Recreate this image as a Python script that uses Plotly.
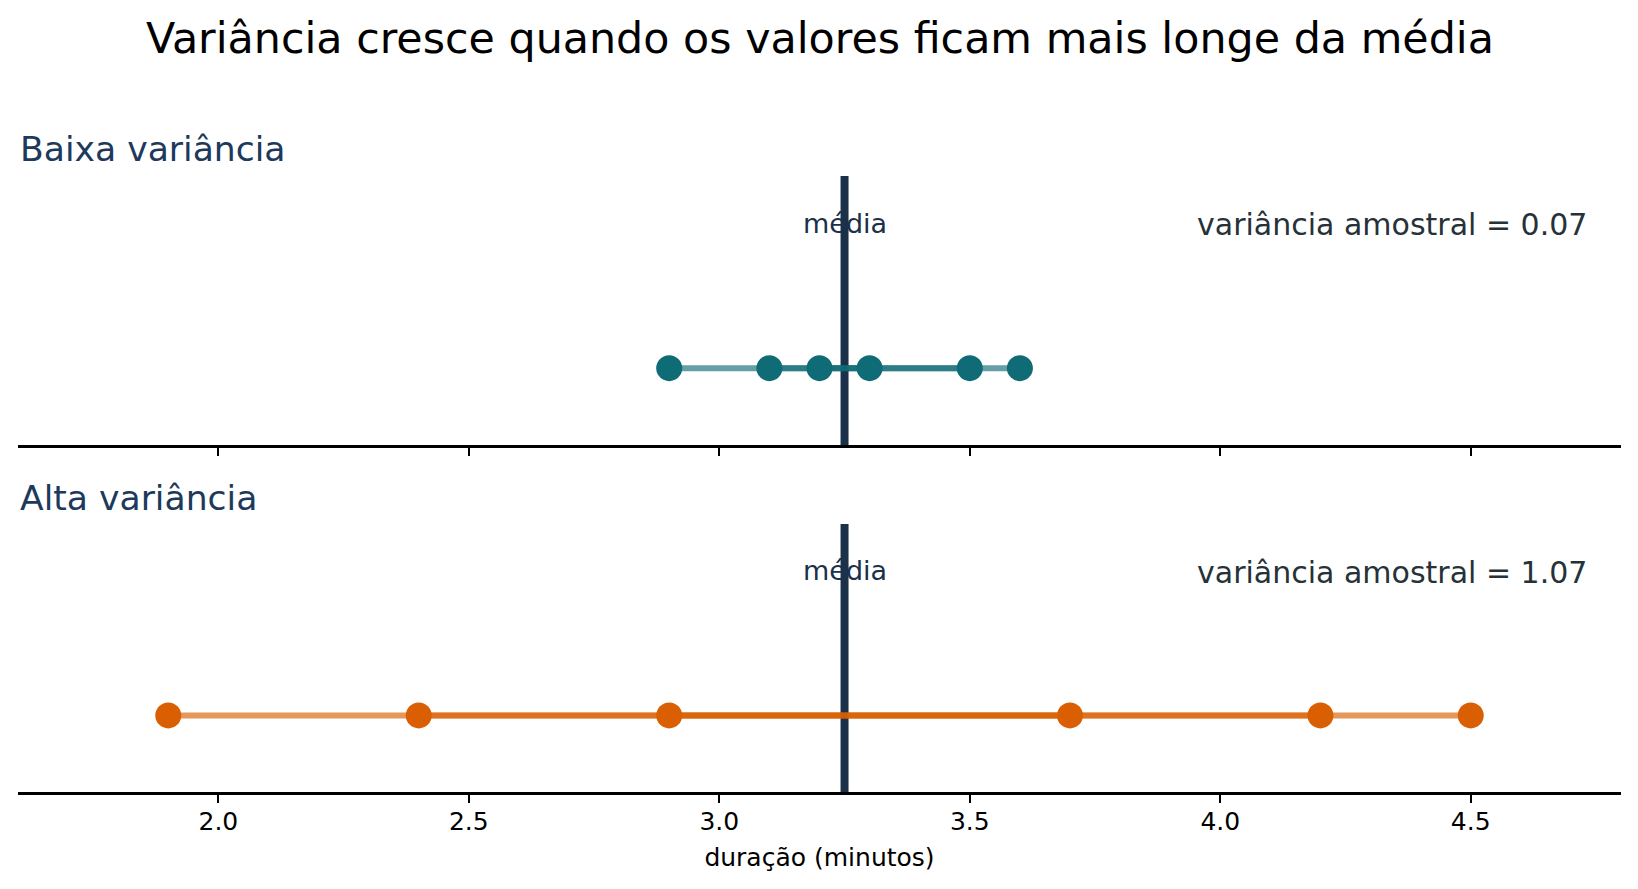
import plotly.graph_objects as go
from plotly.subplots import make_subplots

# durations (minutes)
x_low = [2.9, 3.1, 3.2, 3.3, 3.5, 3.6]
x_high = [1.9, 2.4, 2.9, 3.7, 4.2, 4.5]
mean_line = 3.25
var_labels = ["variância amostral = 0.07", "variância amostral = 1.07"]
panel_titles = ["Baixa variância", "Alta variância"]
tick_vals = [2.0, 2.5, 3.0, 3.5, 4.0, 4.5]

navy = "#1b3049"
teal = "#0f6b75"
orange = "#d95f02"
seg_colors = ["rgba(15,107,117,0.65)", "rgba(217,95,2,0.65)"]

W, H = 1638, 889
off = 8  # page body margin
top_px, bot_px = 176 - off, 792 - off
plot_h = bot_px - top_px

fig = make_subplots(rows=2, cols=1, shared_xaxes=True, vertical_spacing=0.1)

for row, (xs, col) in enumerate([(x_low, teal), (x_high, orange)], start=1):
    # one line from every point to the mean -> overlaps get darker
    for xv in xs:
        fig.add_trace(go.Scatter(x=[xv, mean_line], y=[0, 0], mode="lines",
                                 line=dict(color=seg_colors[row - 1], width=6),
                                 hoverinfo="skip", showlegend=False),
                      row=row, col=1)
    fig.add_trace(go.Scatter(x=xs, y=[0] * len(xs), mode="markers",
                             marker=dict(color=col, size=26),
                             showlegend=False),
                  row=row, col=1)
    yref = "y domain" if row == 1 else "y2 domain"
    xref = "x" if row == 1 else "x2"
    fig.add_shape(type="line", x0=mean_line, x1=mean_line, y0=0, y1=1,
                  xref=xref, yref=yref, layer="below",
                  line=dict(color=navy, width=8))
    fig.add_annotation(x=mean_line, y=0.755, xref=xref, yref=yref.replace(" domain", ""),
                       text="média", showarrow=False,
                       font=dict(size=27, color=navy), xanchor="center", yanchor="middle")

# panel geometry in px -> paper
top_dom = [(bot_px - (445 - off)) / plot_h, 1]
bot_dom = [0, (bot_px - (524 - off)) / plot_h]

for i, ypx in enumerate([149, 498]):
    fig.add_annotation(x=0, y=(bot_px - (ypx - off)) / plot_h, xref="paper", yref="paper",
                       text=panel_titles[i], showarrow=False, xanchor="left",
                       yanchor="middle", font=dict(size=34.6, color="#1d3a5c"))

for i, ypx in enumerate([224, 572]):
    fig.add_annotation(x=0.98, y=(bot_px - (ypx - off)) / plot_h, xref="paper", yref="paper",
                       text=var_labels[i], showarrow=False, xanchor="right",
                       yanchor="middle", font=dict(size=30, color="#263238"))

xaxis_style = dict(range=[1.6, 4.8], tickvals=tick_vals, tickformat=".1f",
                   showgrid=False, zeroline=False, showline=True,
                   linecolor="black", linewidth=2.5, ticks="outside",
                   ticklen=8, tickwidth=2, tickcolor="black",
                   tickfont=dict(size=25, color="black"))
yaxis_style = dict(range=[-0.4, 1], visible=False, showgrid=False,
                   zeroline=False, fixedrange=True)

fig.update_layout(
    width=W, height=H,
    margin=dict(l=18 - off, r=17 + off, t=top_px, b=H - bot_px),
    paper_bgcolor="white", plot_bgcolor="white",
    font=dict(family="DejaVu Sans", color="black"),
    title=dict(text="Variância cresce quando os valores ficam mais longe da média",
               x=0.4957, xanchor="center", y=1 - (38 - off) / H, yanchor="middle",
               font=dict(size=42.8, color="black")),
    xaxis=dict(**xaxis_style, showticklabels=False),
    xaxis2=dict(**xaxis_style, showticklabels=True, ticklabelstandoff=-3,
                title=dict(text="duração (minutos)", font=dict(size=25), standoff=14)),
    yaxis=dict(**yaxis_style, domain=top_dom),
    yaxis2=dict(**yaxis_style, domain=bot_dom),
    showlegend=False,
)

fig.write_html("out.html")
